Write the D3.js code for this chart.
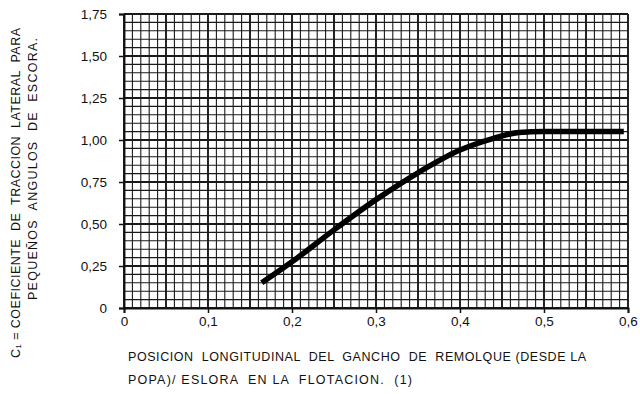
<!DOCTYPE html>
<html>
<head>
<meta charset="utf-8">
<script src="https://cdn.jsdelivr.net/npm/d3@7"></script>
<style>
  body { margin:0; background:#fff; }
  svg text { font-family: "Liberation Sans", Arial, sans-serif; fill:#111; }
</style>
</head>
<body>
<div id="chart"></div>
<script>
// curve
const posX = [0.164, 0.18, 0.20, 0.25, 0.30, 0.35, 0.40, 0.44, 0.47, 0.50, 0.55, 0.595];
const coefY = [0.15, 0.205, 0.275, 0.465, 0.645, 0.805, 0.94, 1.01, 1.045, 1.05, 1.05, 1.05];

const xTicks = [0, 0.1, 0.2, 0.3, 0.4, 0.5, 0.6];
const xTickLabels = ["0", "0,1", "0,2", "0,3", "0,4", "0,5", "0,6"];
const yTicks = [0, 0.25, 0.5, 0.75, 1.0, 1.25, 1.5, 1.75];
const yTickLabels = ["0", "0,25", "0,50", "0,75", "1,00", "1,25", "1,50", "1,75"];

const xTitle = ["POSICION  LONGITUDINAL  DEL  GANCHO  DE  REMOLQUE (DESDE LA",
                "POPA)/ ESLORA  EN LA  FLOTACION.  (1)"];
const yTitle = ["C\u2081 = COEFICIENTE  DE  TRACCION  LATERAL  PARA",
                "PEQUEÑOS  ANGULOS  DE  ESCORA."];

const W = 640, H = 394;
const m = {top:14, right:12, bottom:86, left:124};
const w = W - m.left - m.right, h = H - m.top - m.bottom;

const svg = d3.select("#chart").append("svg").attr("width", W).attr("height", H);
const g = svg.append("g").attr("transform", "translate(" + m.left + "," + m.top + ")");

const x = d3.scaleLinear().domain([0, 0.6]).range([0, w]);
const y = d3.scaleLinear().domain([0, 1.75]).range([h, 0]);

// graph paper grid
const vMinor = d3.range(0, 61).map(d => d / 100);
const hMinor = d3.range(0, 36).map(d => d * 0.05);

g.selectAll(".vg").data(vMinor).enter().append("line")
  .attr("x1", d => x(d)).attr("x2", d => x(d))
  .attr("y1", 0).attr("y2", h)
  .attr("stroke", "#1a1a1a")
  .attr("stroke-width", (d, i) => i % 5 == 0 ? 1.9 : 1.1);

g.selectAll(".hg").data(hMinor).enter().append("line")
  .attr("x1", 0).attr("x2", w)
  .attr("y1", d => y(d)).attr("y2", d => y(d))
  .attr("stroke", "#1a1a1a")
  .attr("stroke-width", (d, i) => i % 5 == 0 ? 1.9 : 1.1);

// axes
const xAxis = d3.axisBottom(x).tickValues(xTicks).tickSize(5).tickPadding(3)
  .tickFormat((d, i) => xTickLabels[i]);
const yAxis = d3.axisLeft(y).tickValues(yTicks).tickSize(5).tickPadding(12)
  .tickFormat((d, i) => yTickLabels[i]);

const gx = g.append("g").attr("transform", "translate(0," + h + ")").call(xAxis);
const gy = g.append("g").call(yAxis);
[gx, gy].forEach(a => {
  a.select(".domain").attr("stroke", "#111").attr("stroke-width", 1.9);
  a.selectAll(".tick line").attr("stroke", "#111").attr("stroke-width", 1.5);
  a.selectAll("text").attr("font-size", 13.5).style("font-family", "'Liberation Sans', Arial, sans-serif").attr("fill", "#111");
});

// the curve
const line = d3.line().x((d, i) => x(posX[i])).y(d => y(d)).curve(d3.curveMonotoneX);
g.append("path").datum(coefY)
  .attr("d", line)
  .attr("fill", "none")
  .attr("stroke", "#000")
  .attr("stroke-width", 5.5)
  .attr("stroke-linecap", "butt");

// titles
svg.selectAll(".xt").data(xTitle).enter().append("text")
  .attr("x", 128).attr("y", (d, i) => 361 + i * 23)
  .attr("font-size", 12.5)
  .attr("textLength", (d, i) => i == 0 ? 458 : 284)
  .attr("lengthAdjust", "spacing")
  .style("white-space", "pre")
  .text(d => d);

svg.selectAll(".yt").data(yTitle).enter().append("text")
  .attr("transform", (d, i) => "translate(" + (20 + i * 17) + "," + (i == 0 ? 358 : 300) + ") rotate(-90)")
  .attr("font-size", 12.5)
  .attr("textLength", (d, i) => i == 0 ? 330 : 262)
  .attr("lengthAdjust", "spacing")
  .style("white-space", "pre")
  .text(d => d);
</script>
</body>
</html>
